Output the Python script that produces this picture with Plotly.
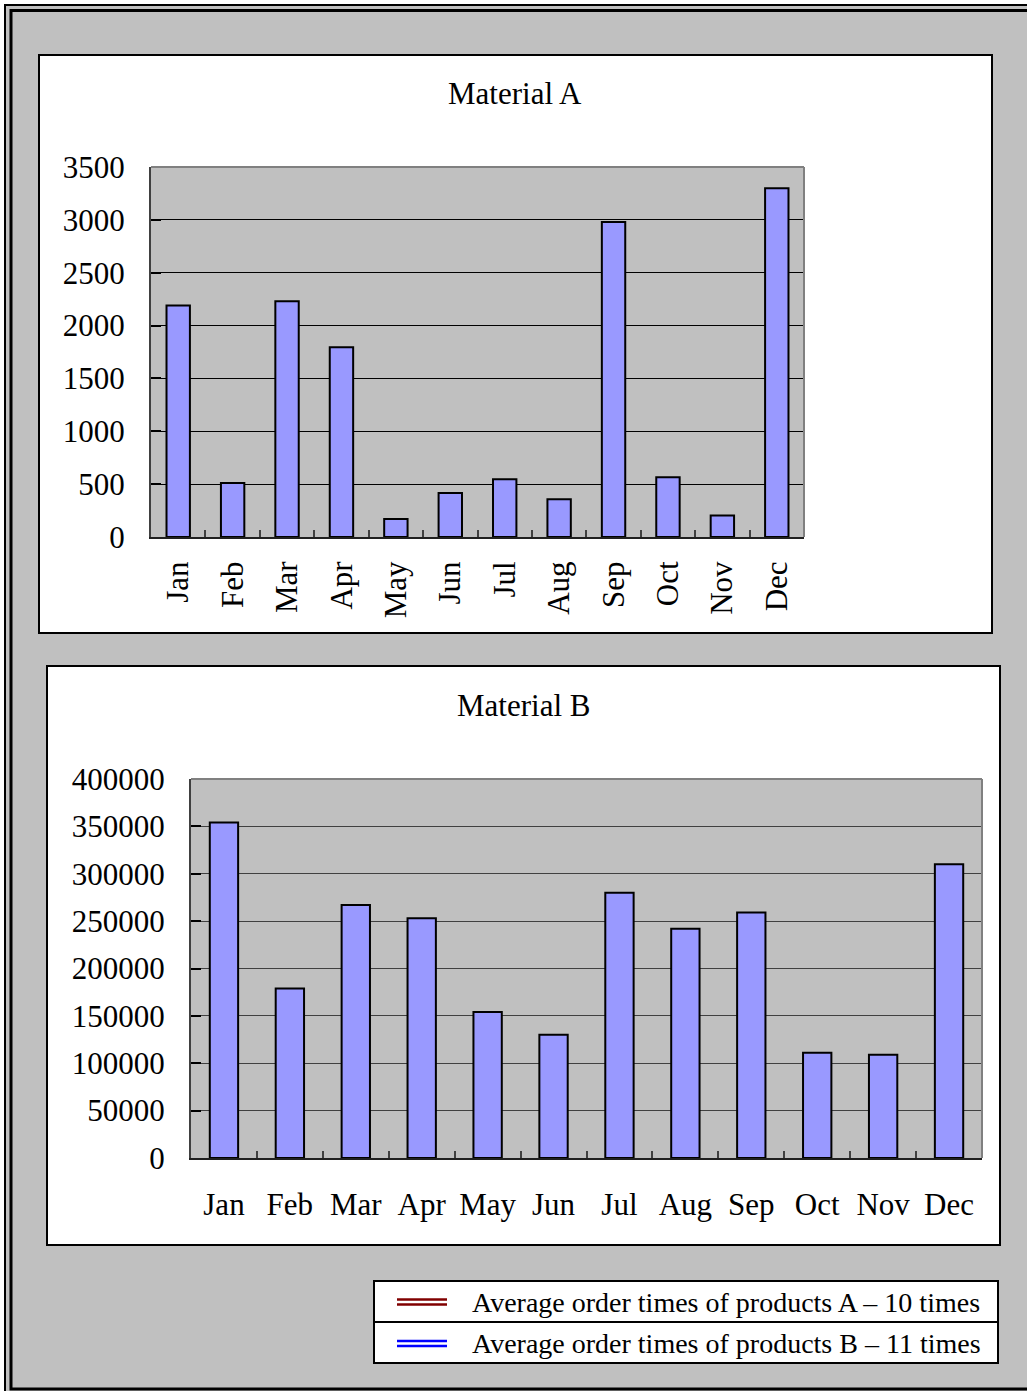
import plotly.graph_objects as go

W, H = 1027, 1391

months = ["Jan", "Feb", "Mar", "Apr", "May", "Jun", "Jul", "Aug", "Sep", "Oct", "Nov", "Dec"]
material_a = [2190, 510, 2230, 1795, 170, 416, 547, 358, 2980, 566, 204, 3300]
material_b = [354000, 179000, 267000, 253000, 154000, 130000, 280000, 242000, 259000, 111000, 109000, 310000]
title_a = "Material A"
title_b = "Material B"
legend_labels = ["Average order times of products A \u2013 10 times",
                 "Average order times of products B \u2013 11 times"]
legend_colors = ["#800000", "#0000ff"]

SERIF = "Liberation Serif, Times New Roman, serif"
BAR = "#9999ff"
PLOTBG = "#c0c0c0"


def px(x):
    return x / W


def py(y):
    return 1 - y / H


fig = go.Figure()

fig.add_trace(go.Bar(x=months, y=material_a, xaxis="x", yaxis="y", width=0.43,
                     marker=dict(color=BAR, line=dict(color="black", width=2)),
                     hoverinfo="x+y"))
fig.add_trace(go.Bar(x=months, y=material_b, xaxis="x2", yaxis="y2", width=0.43,
                     marker=dict(color=BAR, line=dict(color="black", width=2)),
                     hoverinfo="x+y"))

# plot-area pixel boxes
A = dict(l=151, r=804, t=167, b=537)
B = dict(l=191, r=982, t=779, b=1158)

shapes = []
# outer grey background with double frame
shapes.append(dict(type="rect", xref="paper", yref="paper", layer="below",
                   x0=px(5), x1=px(1060), y0=py(1420), y1=py(5),
                   fillcolor=PLOTBG, line=dict(color="black", width=2)))
shapes.append(dict(type="rect", xref="paper", yref="paper", layer="below",
                   x0=px(11), x1=px(1060), y0=py(1389), y1=py(10.5),
                   fillcolor="rgba(0,0,0,0)", line=dict(color="black", width=3)))
# white chart panels
shapes.append(dict(type="rect", xref="paper", yref="paper", layer="below",
                   x0=px(39), x1=px(992), y0=py(633), y1=py(55),
                   fillcolor="white", line=dict(color="black", width=2)))
shapes.append(dict(type="rect", xref="paper", yref="paper", layer="below",
                   x0=px(47), x1=px(1000), y0=py(1245), y1=py(666),
                   fillcolor="white", line=dict(color="black", width=2)))
# grey plot areas
for P in (A, B):
    shapes.append(dict(type="rect", xref="paper", yref="paper", layer="below",
                       x0=px(P["l"]), x1=px(P["r"]), y0=py(P["b"]), y1=py(P["t"]),
                       fillcolor=PLOTBG, line=dict(width=0)))
# grey top/right edges of the plot areas
for P in (A, B):
    shapes.append(dict(type="line", xref="paper", yref="paper",
                       x0=px(P["l"]), x1=px(P["r"]), y0=py(P["t"]), y1=py(P["t"]),
                       line=dict(color="#808080", width=2)))
    shapes.append(dict(type="line", xref="paper", yref="paper",
                       x0=px(P["r"]), x1=px(P["r"]), y0=py(P["t"]), y1=py(P["b"]),
                       line=dict(color="#808080", width=2)))

# legend box
shapes.append(dict(type="rect", xref="paper", yref="paper",
                   x0=px(374), x1=px(998), y0=py(1363), y1=py(1281),
                   fillcolor="white", line=dict(color="black", width=2)))
shapes.append(dict(type="line", xref="paper", yref="paper",
                   x0=px(374), x1=px(998), y0=py(1322), y1=py(1322),
                   line=dict(color="black", width=2)))
annotations = []
row_y = [1302, 1343.5]
for i, (lab, col) in enumerate(zip(legend_labels, legend_colors)):
    yc = row_y[i]
    for dy in (-2.4, 2.4):
        shapes.append(dict(type="line", xref="paper", yref="paper",
                           x0=px(397), x1=px(447), y0=py(yc + dy), y1=py(yc + dy),
                           line=dict(color=col, width=2.5)))
    annotations.append(dict(text=lab, xref="paper", yref="paper", x=px(470), y=py(yc),
                            xanchor="left", yanchor="middle", showarrow=False,
                            font=dict(family=SERIF, size=28, color="black")))

annotations.append(dict(text=title_a, xref="paper", yref="paper", x=px(515), y=py(93),
                        xanchor="center", yanchor="middle", showarrow=False,
                        font=dict(family=SERIF, size=31, color="black")))
annotations.append(dict(text=title_b, xref="paper", yref="paper", x=px(523), y=py(705),
                        xanchor="center", yanchor="middle", showarrow=False,
                        font=dict(family=SERIF, size=31, color="black")))

tickfont = dict(family=SERIF, size=31, color="black")

fig.update_layout(
    width=W, height=H, autosize=False,
    margin=dict(l=0, r=0, t=0, b=0, pad=0, autoexpand=False),
    paper_bgcolor="white",
    plot_bgcolor=PLOTBG,
    showlegend=False,
    bargap=0.57,
    shapes=shapes,
    annotations=annotations,
    xaxis=dict(domain=[px(A["l"]), px(A["r"])], anchor="y", type="category",
               showline=True, linecolor="#202020", linewidth=2,
               ticks="inside", ticklen=7, tickcolor="#404040", tickwidth=1.5,
               tickson="boundaries", tickangle=-90, tickfont=tickfont,
               ticklabelstandoff=10, showgrid=False, fixedrange=True, automargin=False),
    yaxis=dict(domain=[py(A["b"]), py(A["t"])], anchor="x", range=[0, 3500],
               dtick=500, tick0=0, showline=True, linecolor="#404040", linewidth=2,
               ticks="inside", ticklen=10, tickcolor="black", tickwidth=1.5,
               showgrid=True, gridcolor="black", gridwidth=1, zeroline=False,
               tickfont=tickfont, ticklabelstandoff=18, fixedrange=True, automargin=False),
    xaxis2=dict(domain=[px(B["l"]), px(B["r"])], anchor="y2", type="category",
                showline=True, linecolor="#202020", linewidth=2,
                ticks="inside", ticklen=7, tickcolor="#404040", tickwidth=1.5,
                tickson="boundaries", tickangle=0, tickfont=tickfont,
                ticklabelstandoff=18, showgrid=False, fixedrange=True, automargin=False),
    yaxis2=dict(domain=[py(B["b"]), py(B["t"])], anchor="x2", range=[0, 400000],
                dtick=50000, tick0=0, showline=True, linecolor="#404040", linewidth=2,
                ticks="inside", ticklen=10, tickcolor="black", tickwidth=1.5,
                showgrid=True, gridcolor="#404040", gridwidth=1.3, zeroline=False,
                tickformat="d", tickfont=tickfont, ticklabelstandoff=18, fixedrange=True,
                automargin=False),
)

fig.write_html("out.html", config={"displayModeBar": False})
